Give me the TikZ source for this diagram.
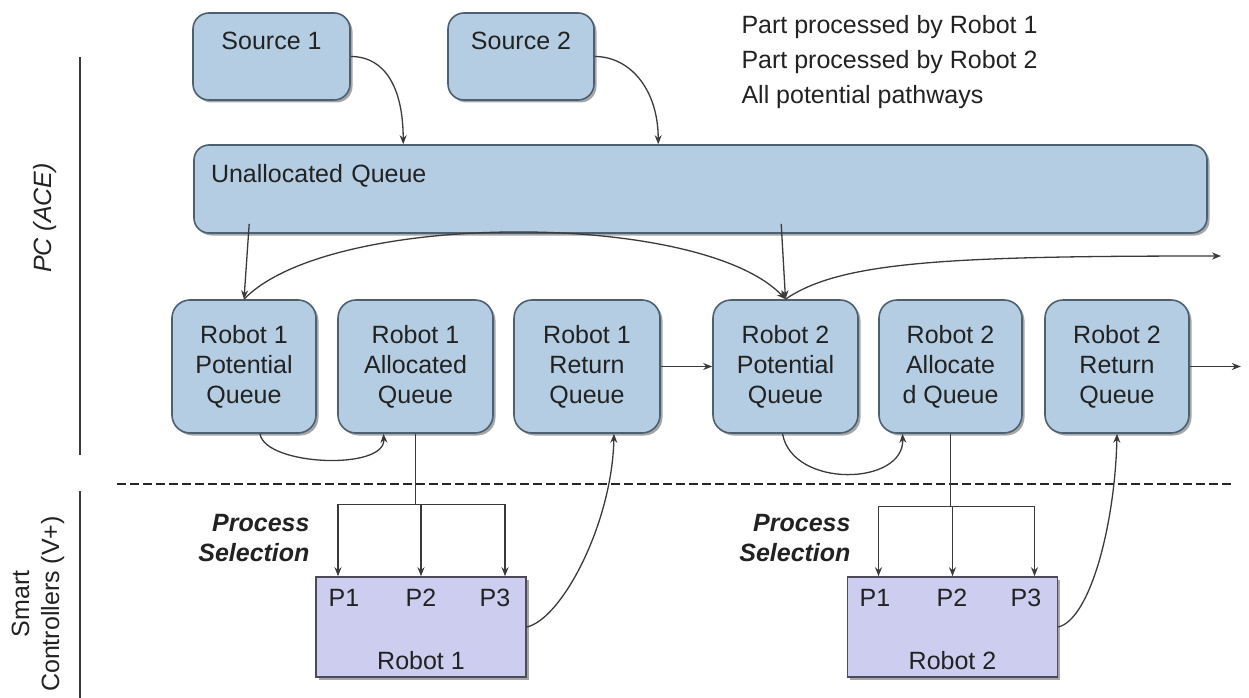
\documentclass[tikz,border=0pt]{standalone}
\usepackage{fontspec}
\setmainfont{Liberation Sans}
\usepackage{tikz}
\usetikzlibrary{arrows.meta, calc, shadows}
\definecolor{cqueue}{HTML}{B4CDE2}
\definecolor{cqline}{HTML}{4C6072}
\definecolor{crobot}{HTML}{CDCDF0}
\definecolor{crline}{HTML}{4A4A58}
\definecolor{cline}{HTML}{3A3A3A}
\definecolor{ctext}{HTML}{222222}

\begin{document}
\begin{tikzpicture}[
    x=1pt, y=-1pt,
    font=\fontsize{25}{30}\selectfont,
    text=ctext,
    box/.style={rectangle, rounded corners=18pt, draw=cqline, line width=1.6pt, fill=cqueue, align=center,
        drop shadow={shadow xshift=2.5pt, shadow yshift=-2.5pt, fill=black, opacity=0.35}},
    robbox/.style={rectangle, draw=crline, line width=1.6pt, fill=crobot, align=center,
        drop shadow={shadow xshift=2.5pt, shadow yshift=-2.5pt, fill=black, opacity=0.35}},
    link/.style={cline, line width=1.3pt}
]
\useasboundingbox (0,0) rectangle (1249,698);

% Layer separators
\draw[cline, line width=1.5pt] (80,57) -- (80,455);
\draw[cline, line width=1.5pt] (80,491) -- (80,698);
\draw[black!85, line width=2.6pt, dash pattern=on 9pt off 4pt] (117,484) -- (1231,484);

\node[rotate=90, font=\fontsize{25}{30}\selectfont\itshape] (pclabel) at (45,218) {PC (ACE)};
\node[rotate=90, align=center] (sclabel) at (38,604) {Smart\\Controllers (V+)};

% Sources
\node[box, rounded corners=16pt, minimum width=157pt, inner ysep=6pt, text height=31pt, text depth=44pt] (src1) at (271.5,56.5) {Source 1};
\node[box, rounded corners=16pt, minimum width=146pt, inner ysep=6pt, text height=31pt, text depth=44pt] (src2) at (521,56.5) {Source 2};

% Legend
\node[anchor=west, align=left] (legend) at (738,62) {Part processed by Robot 1\\[5pt]Part processed by Robot 2\\[5pt]All potential pathways};

% Unallocated queue
\node[box, rounded corners=15pt, inner xsep=17pt, inner ysep=6pt, text width=979pt, align=left, text height=31pt, text depth=45pt] (unalloc) at (700.5,189) {Unallocated Queue};

% Robot queues
\node[box, minimum width=144pt, minimum height=133pt] (r1pot) at (244,366.5) {Robot 1\\Potential\\Queue};
\node[box, minimum width=155pt, minimum height=133pt] (r1alloc) at (415.5,366.5) {Robot 1\\Allocated\\Queue};
\node[box, minimum width=146pt, minimum height=133pt] (r1ret) at (587,366.5) {Robot 1\\Return\\Queue};
\node[box, minimum width=145pt, minimum height=133pt] (r2pot) at (785.5,366.5) {Robot 2\\Potential\\Queue};
\node[box, minimum width=143pt, minimum height=133pt] (r2alloc) at (950.5,366.5) {Robot 2\\Allocate\\d Queue};
\node[box, minimum width=144pt, minimum height=133pt] (r2ret) at (1117,366.5) {Robot 2\\Return\\Queue};

% Smart controllers
\node[robbox, minimum width=210pt, inner ysep=4pt, text height=88pt, text depth=4pt] (rob1) at (421,627) {Robot 1};
\node[robbox, minimum width=210pt, inner ysep=4pt, text height=88pt, text depth=4pt] (rob2) at (952.5,627) {Robot 2};

\node (r1p1) at (344,598) {P1};
\node (r1p2) at (421,598) {P2};
\node (r1p3) at (495,598) {P3};
\node (r2p1) at (875,598) {P1};
\node (r2p2) at (952,598) {P2};
\node (r2p3) at (1026,598) {P3};

\node[anchor=east, align=right, font=\fontsize{25}{30}\selectfont\bfseries\itshape] (r1sel) at (313,538) {Process\\Selection};
\node[anchor=east, align=right, font=\fontsize{25}{30}\selectfont\bfseries\itshape] (r2sel) at (854,538) {Process\\Selection};

% Helper points
\coordinate (u1) at ($(unalloc.south west)+(56,-10)$);
\coordinate (u2) at ($(unalloc.south west)+(588,-10)$);
\coordinate (out1) at (1221,256);
\coordinate (out2) at ($(r2ret.east)+(51,0)$);
\coordinate (r1fork) at ($(r1alloc.south)+(0,71)$);
\coordinate (r2fork) at ($(r2alloc.south)+(0,73)$);

\draw[link] (r1alloc.south) -- (r1fork);
\draw[link] (r2alloc.south) -- (r2fork);

% Arrows
\begin{scope}[every path/.style={link, -{Stealth[length=9pt, width=7pt]}}]
    \draw (src1.east) .. controls +(35,0) and +(0,-55) .. ($(unalloc.north west)+(210,0)$);
    \draw (src2.east) .. controls +(35,0) and +(0,-55) .. ($(unalloc.north west)+(465,0)$);

    \draw (u1) -- (r1pot.north);
    \draw (u2) -- (r2pot.north);
    \draw (r1pot.north) .. controls +(86,-89) and +(-85,-89) .. (r2pot.north);
    \draw (r2pot.north) .. controls +(55,-38) and +(-271,0) .. (out1);

    \draw ($(r1pot.south)+(16,0)$) .. controls +(5,32) and +(2,37) .. ($(r1alloc.south)+(-32,0)$);
    \draw ($(r2pot.south)+(-3,0)$) .. controls +(10,55) and +(2,52) .. ($(r2alloc.south)+(-48,0)$);

    \draw (r1ret.east) -- (r2pot.west);
    \draw (r2ret.east) -- (out2);

    \draw (r1fork) -| ($(rob1.north)+(-83,0)$);
    \draw (r1fork) -| (rob1.north);
    \draw (r1fork) -| ($(rob1.north)+(84,0)$);
    \draw (r2fork) -| ($(rob2.north)+(-74,0)$);
    \draw (r2fork) -| (rob2.north);
    \draw (r2fork) -| ($(rob2.north)+(82,0)$);

    \draw (rob1.east) .. controls +(35,-8) and +(-2,90) .. ($(r1ret.south)+(27,0)$);
    \draw (rob2.east) .. controls +(32,-8) and +(-2,90) .. (r2ret.south);
\end{scope}

\end{tikzpicture}
\end{document}
